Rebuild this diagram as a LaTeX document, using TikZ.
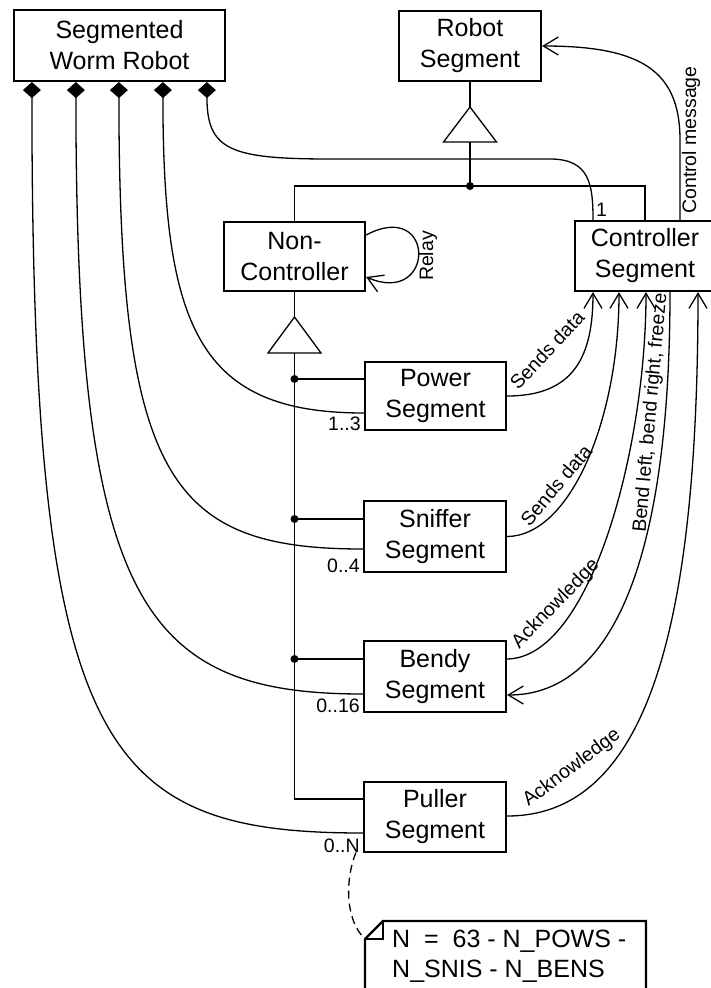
\documentclass[tikz,border=0pt]{standalone}
\usepackage{fontspec}
\setmainfont{Liberation Sans}
\usetikzlibrary{arrows.meta,calc}
\begin{document}
\begin{tikzpicture}[x=1pt,y=-1pt,
  box/.style={draw,line width=2.2pt,inner sep=0pt,align=center,font=\fontsize{25}{31}\selectfont},
  conn/.style={line width=1.3pt},
  msg/.style={conn,-{Straight Barb[length=15pt,width=18pt]}},
  comp/.style={conn,{Diamond[length=16pt,width=18pt]}-},
  lbl/.style={font=\fontsize{19.5}{22}\selectfont,inner sep=0pt},
  jdot/.style={circle,fill,inner sep=0pt,minimum size=8pt},
  notetext/.style={inner sep=0pt,align=left,font=\fontsize{25}{30}\selectfont}
]
\useasboundingbox (0,0) rectangle (710,988);

% classes
\node[box,minimum width=211pt,minimum height=71pt] (swr) at (119.5,45.5) {Segmented\\Worm Robot};
\node[box,minimum width=142pt,minimum height=70pt] (rs) at (470,46) {Robot\\Segment};
\node[box,minimum width=141pt,minimum height=69pt] (nc) at (294.5,256.5) {Non-\\Controller};
\node[box,minimum width=140pt,minimum height=70pt] (cs) at (645,256) {Controller\\Segment};
\node[box,minimum width=141pt,minimum height=68pt] (pow) at (435.5,396) {Power\\Segment};
\node[box,minimum width=142pt,minimum height=71pt] (sni) at (435,536.5) {Sniffer\\Segment};
\node[box,minimum width=142pt,minimum height=71pt] (ben) at (435,676.5) {Bendy\\Segment};
\node[box,minimum width=142pt,minimum height=70pt] (pul) at (435,817) {Puller\\Segment};

% generalization to Robot Segment
\coordinate (t1apex) at (470,107);
\coordinate (t1base) at (470,142);
\coordinate (j1) at (470,186);
\draw[conn] (t1apex) -- (496.5,142) -- (443.5,142) -- cycle;
\draw[conn] (rs.south) -- (t1apex);
\draw[conn] (t1base) -- (j1);
\draw[conn] (nc.north) |- (j1) -| (cs.north);
\node[jdot] at (j1) {};

% generalization to Non-Controller
\coordinate (t2apex) at (294.5,317);
\coordinate (t2base) at (294.5,353);
\coordinate (jp) at (294.5,379);
\coordinate (js) at (294.5,519);
\coordinate (jb) at (294.5,659);
\coordinate (jl) at (294.5,799);
\draw[conn] (t2apex) -- (321,353) -- (268,353) -- cycle;
\draw[conn] (nc.south) -- (t2apex);
\draw[conn] (t2base) -- (jl) -- ($(pul.west)+(0,-18)$);
\draw[conn] (jp) -- ($(pow.west)+(0,-17)$);
\draw[conn] (js) -- ($(sni.west)+(0,-17.5)$);
\draw[conn] (jb) -- ($(ben.west)+(0,-17.5)$);
\node[jdot] at (jp) {};
\node[jdot] at (js) {};
\node[jdot] at (jb) {};

% compositions
\draw[comp] ($(swr.south west)+(19,0)$) .. controls (32,750) and (100,833) .. ($(pul.west)+(0,16)$);
\draw[comp] ($(swr.south west)+(63,0)$) .. controls (76,600) and (140,694) .. ($(ben.west)+(0,17.5)$);
\draw[comp] ($(swr.south west)+(106,0)$) .. controls (119,479) and (170,549) .. ($(sni.west)+(0,12.5)$);
\draw[comp] ($(swr.south west)+(150,0)$) .. controls (163,330) and (200,413) .. ($(pow.west)+(0,17)$);
\draw[comp] ($(swr.south west)+(194,0)$) .. controls (207,150) and (230,159) .. (330,159) -- (550,159) .. controls (590,159) and (593,185) .. ($(cs.north)+(-52,0)$);

% multiplicities
\node[lbl,anchor=base east] (m1) at ($(pow.south west)+(-3,-1)$) {1..3};
\node[lbl,anchor=base east] (m2) at ($(sni.south west)+(-3,-1)$) {0..4};
\node[lbl,anchor=base east] (m3) at ($(ben.south west)+(-3,-1)$) {0..16};
\node[lbl,anchor=base east] (m4) at ($(pul.south west)+(-3,-1)$) {0..N};
\node[lbl,anchor=base west] (m5) at ($(cs.north)+(-49,-3)$) {1};

% messages
\draw[msg] (pow.east) .. controls (575,396) and (593,355) .. ($(cs.south)+(-52,0)$);
\draw[msg] (sni.east) .. controls (570,536) and (619,420) .. ($(cs.south)+(-26,0)$);
\draw[msg] ($(ben.east)+(0,-17.5)$) .. controls (590,658) and (646,450) .. ($(cs.south)+(1,0)$);
\draw[msg] ($(cs.south)+(25,0)$) .. controls (670,540) and (620,695) .. ($(ben.east)+(0,18.5)$);
\draw[msg] ($(pul.east)+(0,-1)$) .. controls (650,816) and (698,620) .. ($(cs.south)+(53,0)$);
\draw[msg] ($(cs.north)+(35,0)$) -- (680,140) .. controls (680,70) and (640,46) .. (rs.east);
\draw[msg] ($(nc.east)+(0,-21.5)$) .. controls (436,198) and (436,307) .. ($(nc.east)+(0,20.5)$);

\node[lbl,rotate=47] (l1) at (547,350) {Sends data};
\node[lbl,rotate=50] (l2) at (556,485) {Sends data};
\node[lbl,rotate=46] (l3) at (556,604) {Acknowledge};
\node[lbl,rotate=37] (l4) at (572,768) {Acknowledge};
\node[lbl,rotate=85] (l5) at (651,413) {Bend left, bend right, freeze};
\node[lbl,rotate=90] (l6) at (691,140) {Control message};
\node[lbl,rotate=90] (l7) at (428,256) {Relay};

% note
\coordinate (notecorner) at (365,939);
\draw[line width=2.2pt] (365,1010) -- (notecorner) -- (383,921) -- (646,921) -- (646,1010);
\draw[line width=2.2pt] (notecorner) -- (383,939) -- (383,921);
\node[notetext,anchor=north west] (note) at (392,930) {N\ \ =\ \ 63 - N\_POWS -\\N\_SNIS - N\_BENS};
\draw[conn,dash pattern=on 8pt off 5pt] ($(m4.south east)+(-4,0)$) .. controls (345,880) and (345,920) .. (notecorner);
\end{tikzpicture}
\end{document}
